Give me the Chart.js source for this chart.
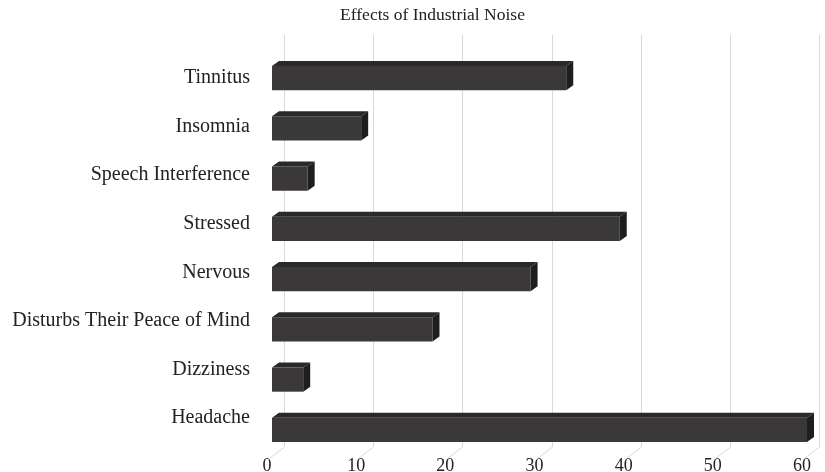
<!DOCTYPE html>
<html>
<head>
<meta charset="utf-8">
<script src="https://cdn.jsdelivr.net/npm/chart.js@4"></script>
<style>
	body { margin: 0; background: #fff; }
	#wrap { width: 825px; height: 472px; }
</style>
</head>
<body>
<div id="wrap"><canvas id="noise-chart"></canvas></div>
<script>
const categories = ['Tinnitus', 'Insomnia', 'Speech Interference', 'Stressed', 'Nervous', 'Disturbs Their Peace of Mind', 'Dizziness', 'Headache']
const responses = [33, 10, 4, 39, 29, 18, 3.5, 60]
const tickValues = [0, 10, 20, 30, 40, 50, 60]

const depthX = 7
const depthY = 5

/*
Back wall gridlines plus the little floor diagonals
*/
const backGrid = {
	id: 'backGrid',
	beforeDatasetsDraw(chart) {
		const ctx = chart.ctx
		const xScale = chart.scales.x
		const area = chart.chartArea
		ctx.save()
		ctx.strokeStyle = '#d9d9d9'
		ctx.lineWidth = 1
		tickValues.forEach(v => {
			const px = Math.round(xScale.getPixelForValue(v)) + 0.5
			ctx.beginPath()
			ctx.moveTo(px + 12, 35)
			ctx.lineTo(px + 12, area.bottom - 8)
			ctx.lineTo(px - 5, area.bottom + 5)
			ctx.stroke()
		})
		ctx.restore()
	}
}

/*
Top and side faces so the bars look like boxes
*/
const boxFaces = {
	id: 'boxFaces',
	afterDatasetsDraw(chart) {
		const ctx = chart.ctx
		chart.getDatasetMeta(0).data.forEach(bar => {
			const top = bar.y - bar.height / 2
			const bottom = bar.y + bar.height / 2
			ctx.save()
			ctx.fillStyle = '#2a292a'
			ctx.beginPath()
			ctx.moveTo(bar.base, top)
			ctx.lineTo(bar.base + depthX, top - depthY)
			ctx.lineTo(bar.x + depthX, top - depthY)
			ctx.lineTo(bar.x, top)
			ctx.closePath()
			ctx.fill()
			ctx.fillStyle = '#1f1e1f'
			ctx.beginPath()
			ctx.moveTo(bar.x, top)
			ctx.lineTo(bar.x + depthX, top - depthY)
			ctx.lineTo(bar.x + depthX, bottom - depthY)
			ctx.lineTo(bar.x, bottom)
			ctx.closePath()
			ctx.fill()
			ctx.restore()
		})
	}
}

// nudge the title a bit right, like the original
const titleShift = {
	id: 'titleShift',
	afterLayout(chart) {
		chart.titleBlock.left += 29
		chart.titleBlock.right += 29
	}
}

const ctx = document.getElementById('noise-chart').getContext('2d')

const noiseChart = new Chart(ctx, {
	type: 'bar',
	data: {
		labels: categories,
		datasets: [{
			data: responses,
			backgroundColor: '#3a3839',
			borderWidth: 0,
			barPercentage: 0.48,
			categoryPercentage: 1
		}]
	},
	options: {
		indexAxis: 'y',
		responsive: true,
		maintainAspectRatio: false,
		animation: false,
		layout: {
			padding: { left: 0, right: 18, top: 0, bottom: 0 }
		},
		plugins: {
			legend: { display: false },
			tooltip: { enabled: false },
			title: {
				display: true,
				text: 'Effects of Industrial Noise',
				color: '#222',
				font: { family: 'Liberation Serif', size: 17.5, weight: 'normal' },
				padding: { top: 5, bottom: 27 }
			}
		},
		scales: {
			x: {
				min: 0,
				max: 60,
				ticks: {
					stepSize: 10,
					color: '#222',
					padding: 0,
					labelOffset: -5,
					font: { family: 'Liberation Serif', size: 18 }
				},
				grid: { display: false, drawTicks: false },
				border: { display: false },
				afterFit(scale) { scale.height = 17 }
			},
			y: {
				display: false
			},
			/*
			The category names sit on the back wall, so they are spaced a
			little tighter than the bars: a separate axis carries them
			*/
			names: {
				type: 'linear',
				position: 'left',
				reverse: true,
				offset: false,
				bounds: 'data',
				min: -0.515,
				max: 7.762,
				afterBuildTicks(scale) {
					scale.min = -0.515
					scale.max = 7.762
					scale.ticks = categories.map((c, i) => ({ value: i }))
				},
				ticks: {
					color: '#222',
					padding: 22,
					callback: v => categories[v],
					font: { family: 'Liberation Serif', size: 20 }
				},
				grid: { display: false, drawTicks: false },
				border: { display: false },
				afterFit(scale) {
					scale.width = 272
					scale.paddingTop = 0
					scale.paddingBottom = 0
				}
			}
		}
	},
	plugins: [backGrid, boxFaces, titleShift]
})
</script>
</body>
</html>
